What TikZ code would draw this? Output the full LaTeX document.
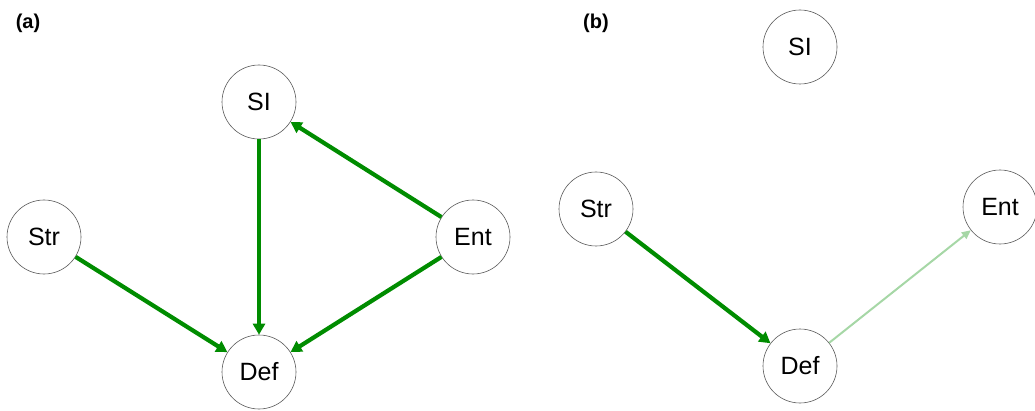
\documentclass[tikz,border=0pt]{standalone}
\usepackage{fontspec}
\setmainfont{Liberation Sans}
\usetikzlibrary{arrows.meta}
\begin{document}
\begin{tikzpicture}[x=1pt,y=1pt,
  vnode/.style={circle,draw=black!65,line width=0.6pt,minimum size=74pt,inner sep=0pt,font=\fontsize{25}{27}\selectfont},
  strong/.style={draw=green!55!black,line width=4.2pt,-{Triangle[length=11pt,width=12pt]}},
  weak/.style={draw=green!55!black!35,line width=2pt,-{Triangle[length=9pt,width=8pt]}},
  panel/.style={font=\fontsize{20}{22}\selectfont\bfseries}]
\useasboundingbox (0,0) rectangle (1035,410);
% panel (a)
\node[panel] (la) at (28,387) {(a)};
\node[vnode] (aSI) at (259,308) {SI};
\node[vnode] (aStr) at (44,173) {Str};
\node[vnode] (aEnt) at (473,173) {Ent};
\node[vnode] (aDef) at (259,38) {Def};
\draw[strong] (aSI) -- (aDef);
\draw[strong] (aEnt) -- (aSI);
\draw[strong] (aStr) -- (aDef);
\draw[strong] (aEnt) -- (aDef);
% panel (b)
\node[panel] (lb) at (596,387) {(b)};
\node[vnode] (bSI) at (800,363) {SI};
\node[vnode] (bStr) at (596,201) {Str};
\node[vnode] (bEnt) at (1000,203) {Ent};
\node[vnode] (bDef) at (800,44) {Def};
\draw[strong] (bStr) -- (bDef);
\draw[weak] (bDef) -- (bEnt);
\end{tikzpicture}
\end{document}
